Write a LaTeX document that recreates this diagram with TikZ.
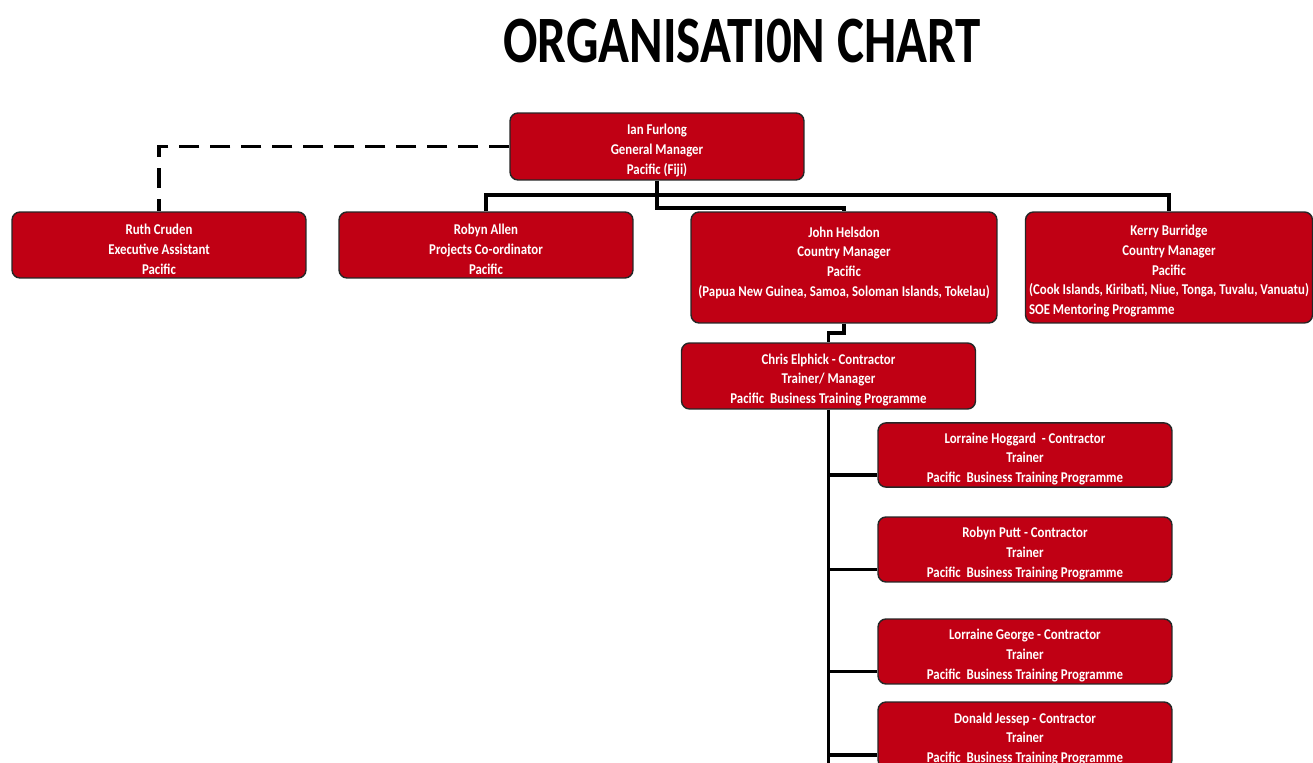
\documentclass[tikz,border=0pt]{standalone}
\usepackage{fontspec}
\setmainfont{Carlito}
\newfontfamily\chartfont{Carlito}[FakeStretch=0.86]
\newfontfamily\titlefont{Carlito}[FakeStretch=0.77]
\definecolor{boxred}{RGB}{192,0,20}
\newcommand{\tallline}{\rule{0pt}{10.5pt}}
\begin{document}
\begin{tikzpicture}[x=0.02cm,y=-0.02cm,
 person/.style={draw=black!85,line width=0.8pt,fill=boxred,rounded corners=0.16cm,
  text=white,align=center,inner sep=1pt,minimum width=5.88cm,minimum height=1.32cm,
  font=\chartfont\bfseries\fontsize{8.5}{11.3}\selectfont},
 link/.style={line width=2.2pt},
 dashlink/.style={line width=2.2pt,dash pattern=on 0.4cm off 0.22cm}]
 \useasboundingbox (0,0) rectangle (1313,763);
 \clip (0,0) rectangle (1313,763);
 \node (title) at (742,41) {\titlefont\bfseries\fontsize{37.7}{40}\selectfont ORGANISATI0N CHART};
 \node[person,minimum height=1.34cm] (ian) at (657,146.5) {\tallline Ian Furlong\\General Manager\\Pacific (Fiji)};
 \node[person] (ruth) at (159,245) {\tallline Ruth Cruden\\Executive Assistant\\Pacific};
 \node[person] (ra) at (486,245) {\tallline Robyn Allen\\Projects Co-ordinator\\Pacific};
 \node[person,minimum width=6.12cm,minimum height=2.22cm] (jh) at (844,267.5) {\tallline John Helsdon\\Country Manager\\Pacific\\(Papua New Guinea, Samoa, Soloman Islands, Tokelau)\\\mbox{}};
 \node[person,minimum width=5.74cm,minimum height=2.22cm] (kb) at (1169,267.5) {\begin{tabular}{@{}c@{}}\rule{0pt}{12pt}Kerry Burridge\\Country Manager\\Pacific\\(Cook Islands, Kiribati, Niue, Tonga, Tuvalu, Vanuatu)\\\multicolumn{1}{@{}l@{}}{SOE Mentoring Programme}\end{tabular}};
 \node[person] (ce) at (828.5,376) {\tallline Chris Elphick - Contractor\\Trainer/ Manager\\Pacific\ \ Business Training Programme};
 \node[person,minimum height=1.28cm] (lh) at (1025,455) {\tallline Lorraine Hoggard\ \ - Contractor\\Trainer\\Pacific\ \ Business Training Programme};
 \node[person,minimum height=1.3cm] (rp) at (1025,549.5) {\tallline Robyn Putt - Contractor\\Trainer\\Pacific\ \ Business Training Programme};
 \node[person,minimum height=1.3cm] (lg) at (1025,651.5) {\tallline Lorraine George - Contractor\\Trainer\\Pacific\ \ Business Training Programme};
 \node[person] (dj) at (1025,735) {\tallline Donald Jessep - Contractor\\Trainer\\Pacific\ \ Business Training Programme};
 \coordinate (bus) at (657,195);
 \coordinate (jbend) at (657,208);
 \coordinate (cbend) at (844,333);
 \coordinate (trunk) at (828.5,770);
 \draw[dashlink] (ian.west) -| (ruth.north);
 \draw[link] (ian.south) -- (ian.south |- jbend) -| (jh.north);
 \draw[link] (ra.north) |- (kb.north |- bus) -- (kb.north);
 \draw[link] (jh.south) -- (jh.south |- cbend) -| (ce.north);
 \draw[link] (ce.south) -- (ce.south |- trunk);
 \foreach \n in {lh,rp,lg,dj}
  \draw[link] ([yshift=-0.4cm]\n.west) -| (ce.south);
\end{tikzpicture}
\end{document}
